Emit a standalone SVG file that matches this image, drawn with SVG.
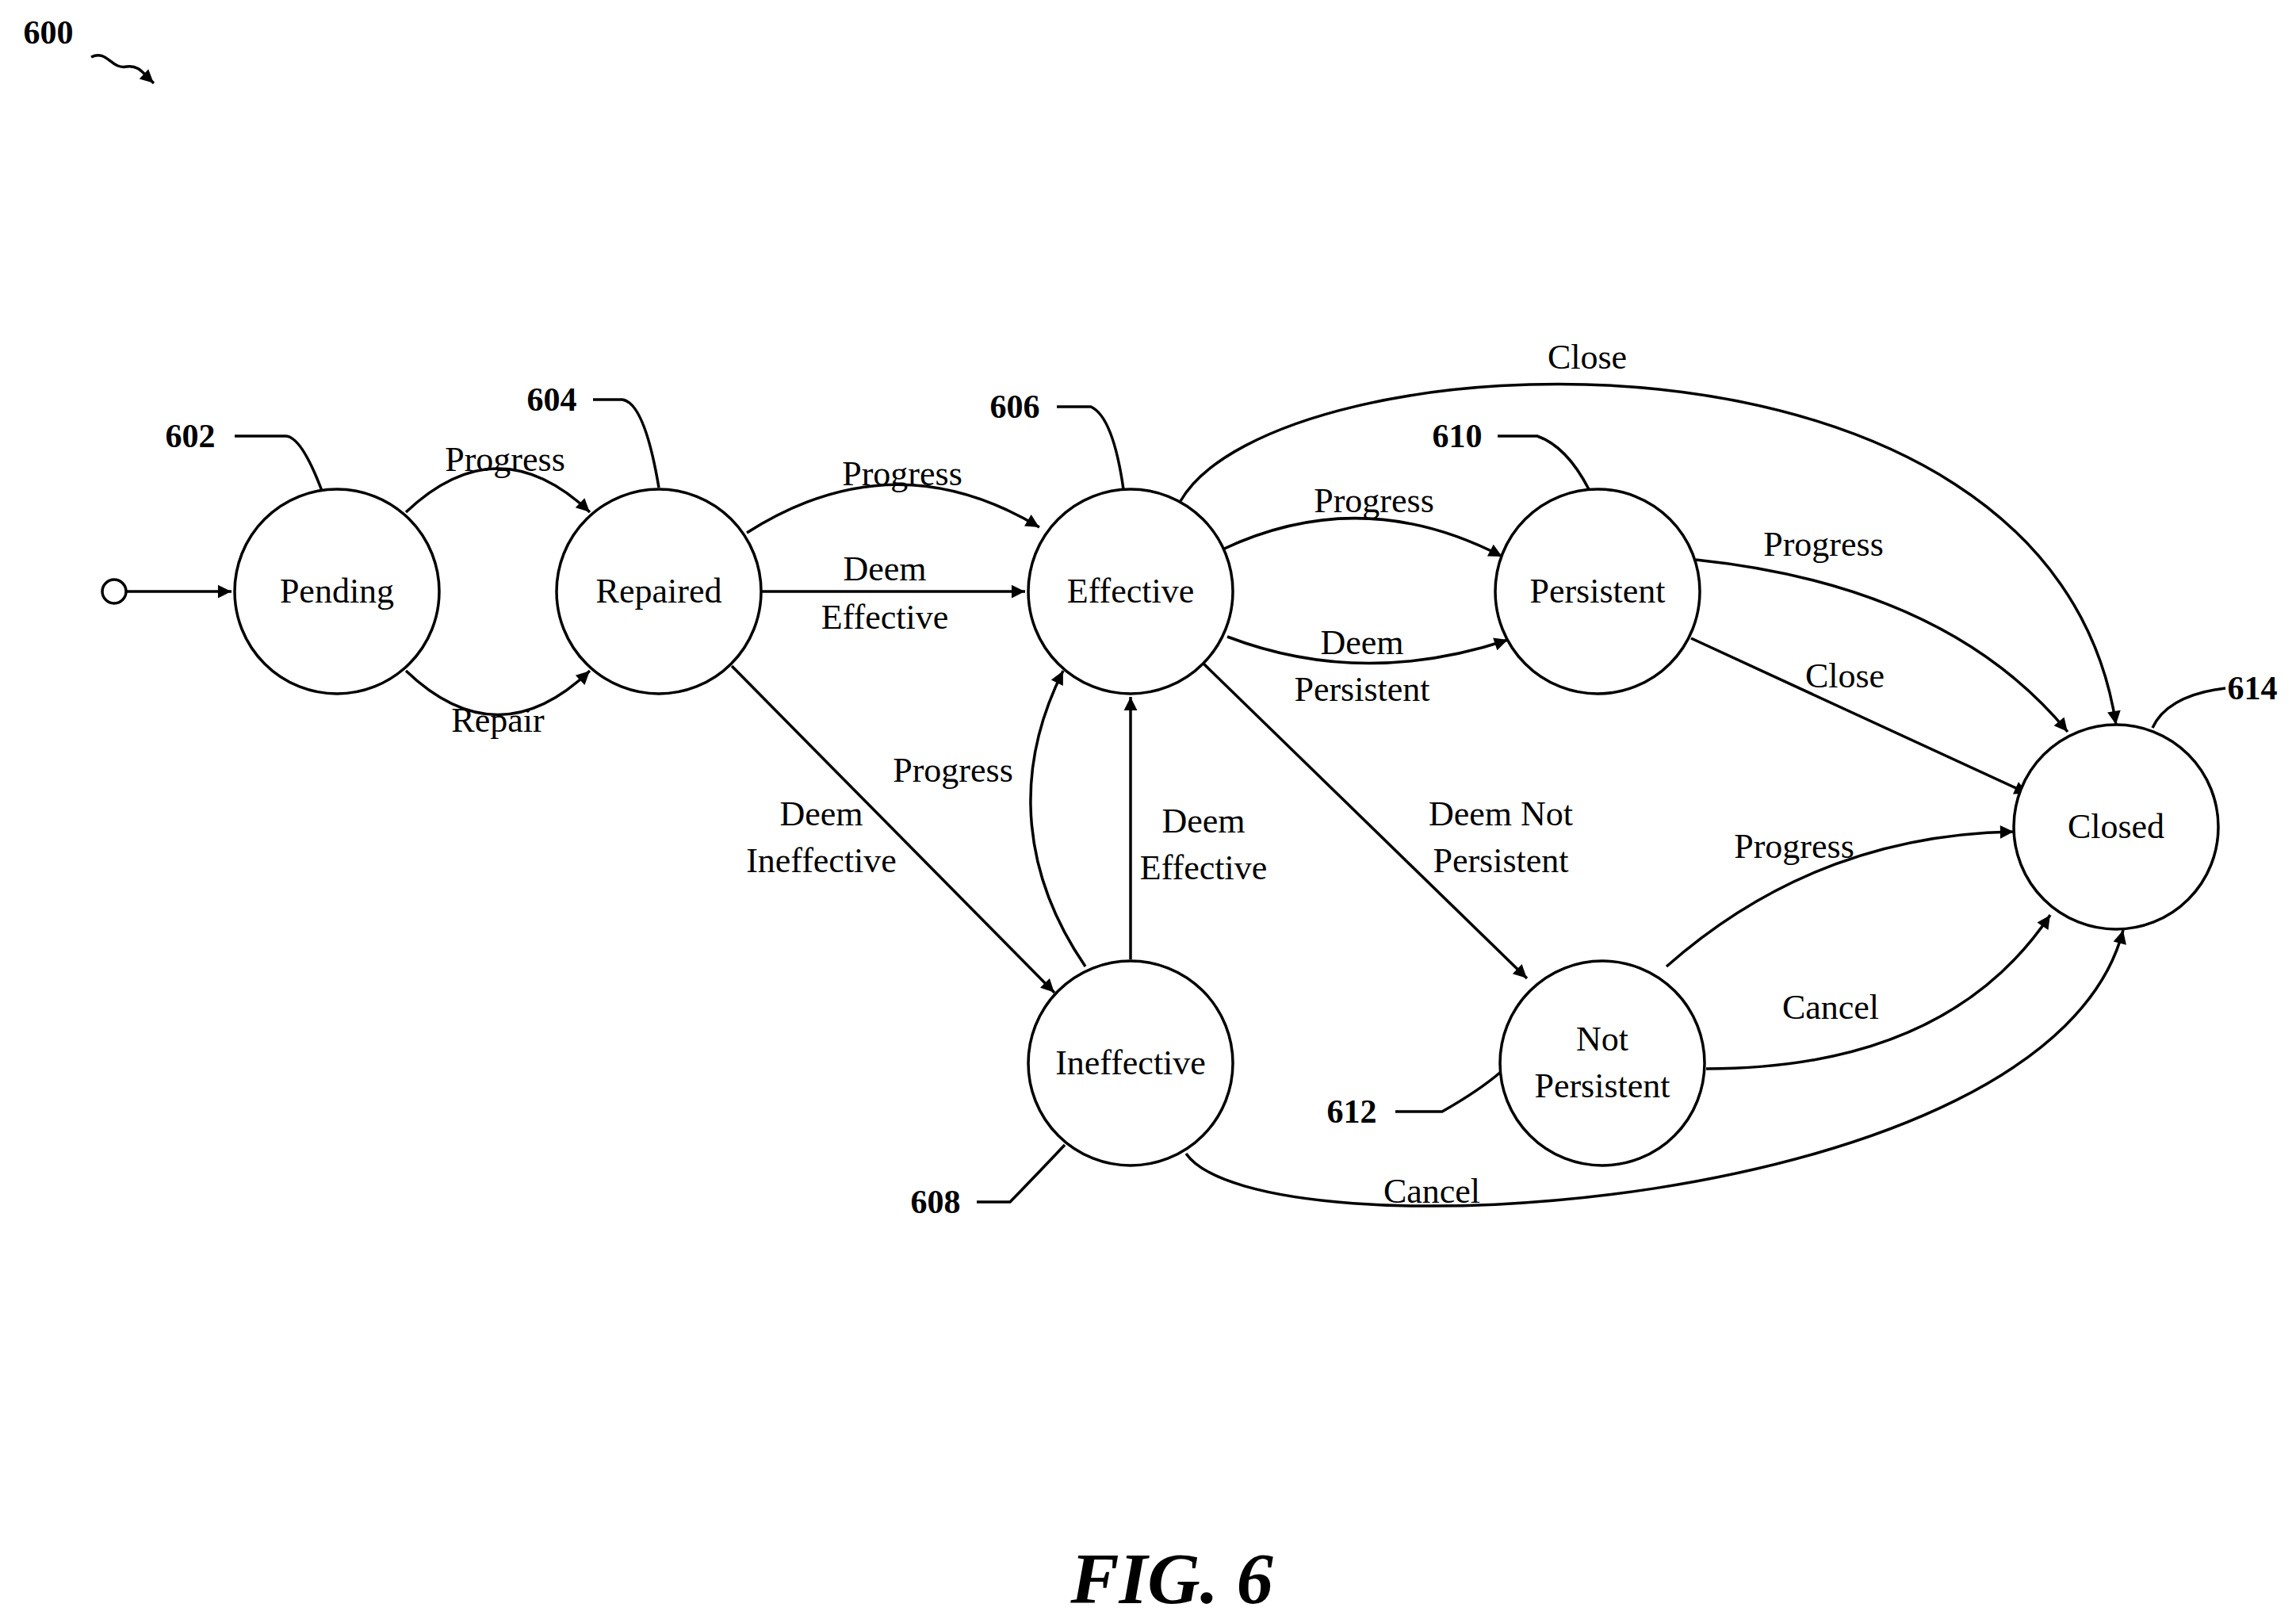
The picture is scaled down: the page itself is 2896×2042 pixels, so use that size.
<svg xmlns="http://www.w3.org/2000/svg" width="2896" height="2042" viewBox="0 0 2896 2042">
<style>
.n{fill:#fff;stroke:#000;stroke-width:3.5}
.t{font-family:"Liberation Serif",serif;font-size:44px;text-anchor:middle;fill:#000}
.r{font-family:"Liberation Serif",serif;font-size:42px;font-weight:bold;text-anchor:middle;fill:#000}
.e{fill:none;stroke:#000;stroke-width:3.5;marker-end:url(#a)}
.l{fill:none;stroke:#000;stroke-width:3.5}
</style>
<defs><marker id="a" viewBox="0 0 10 10" refX="10" refY="5" markerWidth="7" markerHeight="7" orient="auto" markerUnits="userSpaceOnUse" style="overflow:visible"><path d="M0,0 L10,5 L0,10 z" transform="scale(2.4) translate(-6,-2.9)" fill="#000"/></marker></defs>
<rect width="2896" height="2042" fill="#fff"/>
<g id="connectors">
<circle cx="144" cy="746" r="15" class="n"/>
<path class="e" d="M159,746 L292,746"/>
<path class="e" d="M512,646 Q628,536 744,646"/>
<path class="e" d="M512,846 Q628,957 744,846"/>
<path class="e" d="M942,672 Q1127,554 1311,665"/>
<path class="e" d="M960,746 L1293,746"/>
<path class="e" d="M923,840 L1330,1252"/>
<path class="e" d="M1426,1210 L1426,879"/>
<path class="e" d="M1369,1219 C1293,1108 1274,979 1341,846"/>
<path class="e" d="M1542,693 Q1718,610 1895,702"/>
<path class="e" d="M1548,803 Q1718,868 1902,807"/>
<path class="e" d="M1518,837 L1926,1234"/>
<path class="e" d="M1489,632 C1607,425 2586,369 2669,914"/>
<path class="e" d="M2139,706 Q2456,739 2608,923"/>
<path class="e" d="M2133,805 L2558,1001"/>
<path class="e" d="M2102,1219 Q2290,1053 2540,1049"/>
<path class="e" d="M2152,1348 Q2456,1348 2586,1154"/>
<path class="e" d="M1496,1455 C1588,1588 2586,1533 2678,1173"/>
<text class="t" x="637" y="594">Progress</text>
<text class="t" x="628" y="923">Repair</text>
<text class="t" x="1138" y="612">Progress</text>
<text class="t" x="1116" y="732">Deem</text>
<text class="t" x="1116" y="793">Effective</text>
<text class="t" x="1036" y="1041">Deem</text>
<text class="t" x="1036" y="1100">Ineffective</text>
<text class="t" x="1518" y="1050">Deem</text>
<text class="t" x="1518" y="1109">Effective</text>
<text class="t" x="1202" y="986">Progress</text>
<text class="t" x="1733" y="646">Progress</text>
<text class="t" x="1718" y="825">Deem</text>
<text class="t" x="1718" y="884">Persistent</text>
<text class="t" x="1893" y="1041">Deem Not</text>
<text class="t" x="1893" y="1100">Persistent</text>
<text class="t" x="2002" y="465">Close</text>
<text class="t" x="2300" y="701">Progress</text>
<text class="t" x="2327" y="867">Close</text>
<text class="t" x="2263" y="1082">Progress</text>
<text class="t" x="2309" y="1285">Cancel</text>
<text class="t" x="1806" y="1517">Cancel</text>
</g>
<g id="n602"><circle class="n" cx="425" cy="746" r="129"/><text class="t" x="425" y="760">Pending</text></g>
<g id="n604"><circle class="n" cx="831" cy="746" r="129"/><text class="t" x="831" y="760">Repaired</text></g>
<g id="n606"><circle class="n" cx="1426" cy="746" r="129"/><text class="t" x="1426" y="760">Effective</text></g>
<g id="n610"><circle class="n" cx="2015" cy="746" r="129"/><text class="t" x="2015" y="760">Persistent</text></g>
<g id="n614"><circle class="n" cx="2669" cy="1043" r="129"/><text class="t" x="2669" y="1057">Closed</text></g>
<g id="n608"><circle class="n" cx="1426" cy="1341" r="129"/><text class="t" x="1426" y="1355">Ineffective</text></g>
<g id="n612"><circle class="n" cx="2021" cy="1341" r="129"/><text class="t" x="2021" y="1325">Not</text><text class="t" x="2021" y="1384">Persistent</text></g>
<g id="refs">
<text class="r" x="61" y="55">600</text>
<path class="e" d="M115,72 C135,62 140,88 160,84 C175,82 180,92 194,105"/>
<text class="r" x="240" y="564">602</text><path class="l" d="M296,550 L360,550 Q380,550 406,619"/>
<text class="r" x="696" y="518">604</text><path class="l" d="M748,504 L785,504 Q813,508 831,615"/>
<text class="r" x="1280" y="527">606</text><path class="l" d="M1333,513 L1376,513 Q1404,526 1417,617"/>
<text class="r" x="1838" y="564">610</text><path class="l" d="M1889,550 L1939,550 Q1976,563 2004,617"/>
<text class="r" x="2841" y="882">614</text><path class="l" d="M2807,868 Q2734,877 2715,918"/>
<text class="r" x="1705" y="1416">612</text><path class="l" d="M1760,1402 L1819,1402 Q1865,1376 1893,1352"/>
<text class="r" x="1180" y="1530">608</text><path class="l" d="M1232,1516 L1274,1516 Q1311,1478 1343,1444"/>
</g>
<text x="1478" y="2022" style="font-family:'Liberation Serif',serif;font-size:92px;font-weight:bold;font-style:italic;text-anchor:middle">FIG. 6</text>
</svg>
